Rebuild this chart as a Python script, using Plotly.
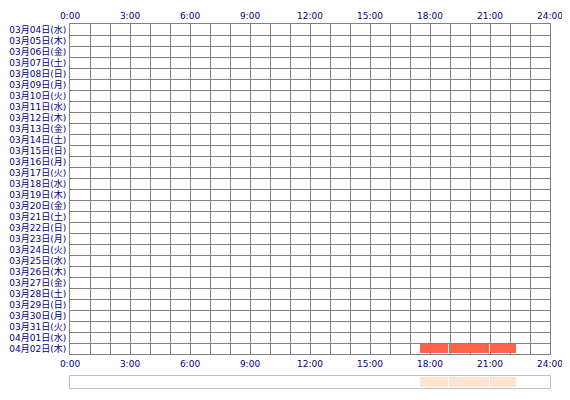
import plotly.graph_objects as go

days = ["03月04日(水)", "03月05日(木)", "03月06日(金)", "03月07日(土)", "03月08日(日)",
        "03月09日(月)", "03月10日(火)", "03月11日(水)", "03月12日(木)", "03月13日(金)",
        "03月14日(土)", "03月15日(日)", "03月16日(月)", "03月17日(火)", "03月18日(水)",
        "03月19日(木)", "03月20日(金)", "03月21日(土)", "03月22日(日)", "03月23日(月)",
        "03月24日(火)", "03月25日(水)", "03月26日(木)", "03月27日(金)", "03月28日(土)",
        "03月29日(日)", "03月30日(月)", "03月31日(火)", "04月01日(水)", "04月02日(木)"]

hour_ticks = [0, 3, 6, 9, 12, 15, 18, 21, 24]
hour_labels = ["0:00", "3:00", "6:00", "9:00", "12:00", "15:00", "18:00", "21:00", "24:00"]

# sessions (day, start, end) in hours
sess_day = ["04月02日(木)", "04月02日(木)", "04月02日(木)"]
sess_start = [17 + 30 / 60, 18 + 57 / 60, 20 + 59 / 60]
sess_end = [18 + 54 / 60, 20 + 56 / 60, 22 + 18 / 60]

navy = "#000080"
grid = "#808080"
fam = "DejaVu Sans, Noto Sans CJK JP"
xfont = dict(family=fam, size=9, color=navy)
yfont = dict(family=fam, size=9, color=navy)

rows = [days.index(d) + 0.5 for d in sess_day]
dur = [e - s for s, e in zip(sess_start, sess_end)]

fig = go.Figure()
fig.add_trace(go.Bar(x=dur, base=sess_start, y=rows, orientation="h", width=0.9,
                     marker=dict(color="#FF6347", line=dict(width=0)),
                     xaxis="x", yaxis="y", hoverinfo="skip"))
fig.add_trace(go.Bar(x=dur, base=sess_start, y=[0.5] * len(dur), orientation="h", width=0.85,
                     marker=dict(color="#FFE4D2", line=dict(width=0)),
                     xaxis="x2", yaxis="y2", hoverinfo="skip"))
# dummy trace so the bottom label axis is drawn
fig.add_trace(go.Scatter(x=[0, 24], y=[0, 0], mode="markers", marker=dict(opacity=0),
                         xaxis="x3", yaxis="y", hoverinfo="skip"))

# page body adds an 8px offset, so the figure is a bit smaller
main_bottom = (380 - 346) / 364
strip_top = 12 / 364

fig.update_layout(
    width=562, height=392,
    margin=dict(l=62, r=20, t=16, b=12),
    paper_bgcolor="white", plot_bgcolor="white",
    showlegend=False, bargap=0,
    font=xfont,
    xaxis=dict(range=[0, 24], side="top", anchor="y", tickmode="array",
               tickvals=hour_ticks, ticktext=hour_labels, showgrid=True,
               gridcolor=grid, gridwidth=1, zeroline=False, ticks="",
               minor=dict(dtick=1, tick0=0, showgrid=True, gridcolor=grid, gridwidth=1),
               showline=True, mirror=True, linecolor=grid, layer="above traces",
               tickfont=xfont, automargin=False, fixedrange=True),
    xaxis3=dict(range=[0, 24], side="bottom", anchor="y", overlaying="x",
                tickmode="array", tickvals=hour_ticks, ticktext=hour_labels,
                showgrid=False, zeroline=False, ticks="", tickfont=xfont,
                automargin=False, ticklabelstandoff=3),
    yaxis=dict(range=[30, 0], domain=[main_bottom, 1], tickmode="array",
               tickvals=[i + 0.5 for i in range(len(days))], ticktext=days,
               showgrid=False, zeroline=False, ticks="",
               minor=dict(tickmode="array", tickvals=list(range(len(days) + 1)),
                          showgrid=True, gridcolor=grid, gridwidth=1),
               showline=True, mirror=True, linecolor=grid, layer="above traces",
               tickfont=yfont, automargin=False, ticklabelstandoff=1),
    xaxis2=dict(range=[0, 24], anchor="y2", showticklabels=False, showgrid=False,
                zeroline=False, ticks="", showline=True, mirror=True, linecolor="#C0C0C0",
                automargin=False),
    yaxis2=dict(range=[0, 1], domain=[0, strip_top], showticklabels=False, showgrid=False,
                zeroline=False, ticks="", showline=True, mirror=True, linecolor="#C0C0C0",
                automargin=False),
)

fig.write_html("out.html")
